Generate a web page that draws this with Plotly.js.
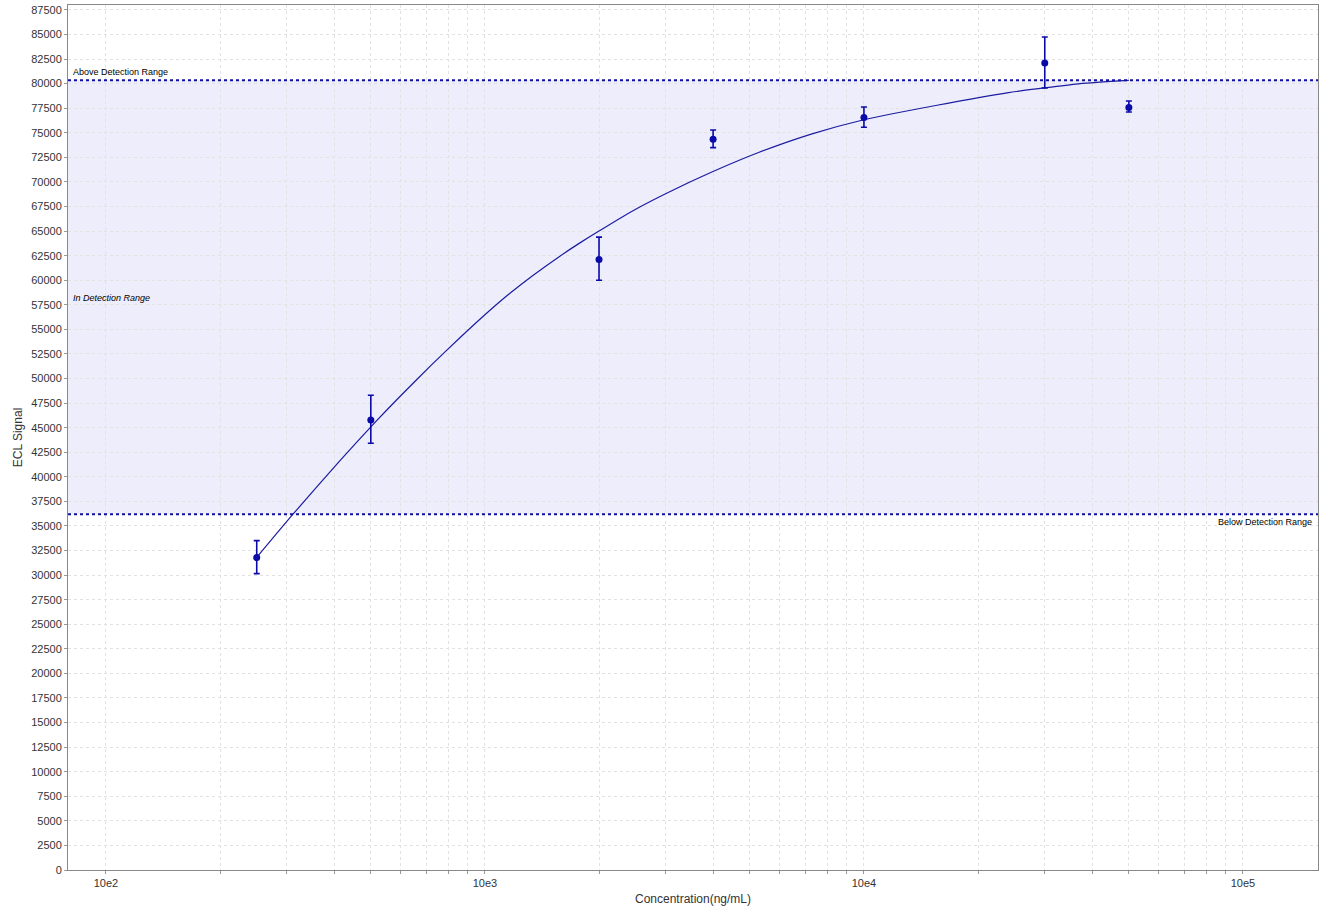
<!DOCTYPE html>
<html>
<head>
<meta charset="utf-8">
<script src="https://cdn.plot.ly/plotly-3.0.1.min.js"></script>
<style>
  html, body { margin: 0; padding: 0; background: #fff; }
  #chart { width: 1326px; height: 912px; }
</style>
</head>
<body>
<div id="chart"></div>
<script>
// measured standards (concentration, mean signal, error bar ends)
var concentration = [250, 500, 2000, 4000, 10000, 30000, 50000];
var signal = [31780, 45790, 62120, 74340, 76550, 82110, 77570];
var signalHigh = [33510, 48300, 64390, 75280, 77630, 84750, 78240];
var signalLow = [30150, 43410, 60000, 73490, 75560, 79560, 77120];

// fitted curve
var fitX = [250, 312, 414, 518, 603, 723, 859, 1000, 1164, 1341, 1577, 1781, 2000, 2413, 3016, 4010, 5272, 7296, 10000, 15590, 24070, 29900, 37150, 50000];
var fitY = [31800, 36220, 41620, 45710, 48350, 51390, 54150, 56490, 58670, 60510, 62450, 63800, 65010, 66900, 68850, 71080, 72990, 74890, 76330, 77800, 79090, 79560, 80010, 80340];

// detection limits
var upperLimit = 80340;
var lowerLimit = 36180;

var decades = [100, 1000, 10000, 100000];
var decadeLabels = ['10e2', '10e3', '10e4', '10e5'];

var xTicks = [];
var xText = [];
decades.forEach(function (d) {
	for (var m = 1; m <= 9; m++) {
		var v = d * m;
		var i = decades.indexOf(v);
		xTicks.push(v);
		xText.push(i >= 0 ? decadeLabels[i] : '');
	}
});

var blue = '#0a0aa8';

var fit = {
	x: fitX,
	y: fitY,
	mode: 'lines',
	type: 'scatter',
	line: {color: '#1c1ca0', width: 1.2, shape: 'spline', smoothing: 0.6},
	hoverinfo: 'skip'
};

var points = {
	x: concentration,
	y: signal,
	mode: 'markers',
	type: 'scatter',
	marker: {color: blue, size: 7},
	error_y: {
		type: 'data',
		symmetric: false,
		array: signalHigh.map(function (v, i) { return v - signal[i]; }),
		arrayminus: signal.map(function (v, i) { return v - signalLow[i]; }),
		color: blue,
		thickness: 1.6,
		width: 3
	}
};

var gridColor = '#e2e2e2';
var smallFont = {family: 'Liberation Sans, Arial, sans-serif', size: 9, color: '#000'};

var layout = {
	width: 1326,
	height: 912,
	margin: {l: 68, r: 8, t: 5, b: 42},
	paper_bgcolor: '#fff',
	plot_bgcolor: '#fff',
	showlegend: false,
	font: {family: 'Liberation Sans, Arial, sans-serif', size: 11, color: '#333'},
	xaxis: {
		type: 'log',
		range: [1.9, 5.198],
		tickmode: 'array',
		tickvals: xTicks,
		ticktext: xText,
		ticks: 'outside',
		ticklen: 3,
		tickcolor: '#999',
		showgrid: true,
		gridcolor: gridColor,
		griddash: '3px,3px',
		gridwidth: 1,
		showline: true,
		linecolor: '#888',
		linewidth: 1,
		mirror: true,
		zeroline: false,
		tickfont: {size: 11, color: '#333'},
		title: {text: 'Concentration(ng/mL)', font: {size: 12, color: '#333'}, standoff: 6}
	},
	yaxis: {
		range: [0, 88000],
		tick0: 0,
		dtick: 2500,
		tickformat: 'd',
		ticks: 'outside',
		ticklen: 3,
		tickcolor: '#999',
		showgrid: true,
		gridcolor: gridColor,
		griddash: '3px,3px',
		showline: true,
		linecolor: '#888',
		linewidth: 1,
		mirror: true,
		zeroline: false,
		tickfont: {size: 11, color: '#333'},
		title: {text: 'ECL Signal', font: {size: 12, color: '#333'}, standoff: 6}
	},
	shapes: [
		{
			type: 'rect', layer: 'below',
			xref: 'paper', yref: 'y',
			x0: 0, x1: 1, y0: lowerLimit, y1: upperLimit,
			fillcolor: 'rgba(225,225,250,0.6)', line: {width: 0}
		},
		{
			type: 'line', xref: 'paper', yref: 'y',
			x0: 0, x1: 1, y0: upperLimit, y1: upperLimit,
			line: {color: '#1010a0', width: 2, dash: 'dot'}
		},
		{
			type: 'line', xref: 'paper', yref: 'y',
			x0: 0, x1: 1, y0: lowerLimit, y1: lowerLimit,
			line: {color: '#1010a0', width: 2, dash: 'dot'}
		}
	],
	annotations: [
		{
			xref: 'paper', yref: 'y', x: 0.002, y: upperLimit,
			xanchor: 'left', yanchor: 'bottom', yshift: 1,
			text: 'Above Detection Range', showarrow: false, font: smallFont
		},
		{
			xref: 'paper', yref: 'y', x: 0.002, y: 58150,
			xanchor: 'left', yanchor: 'middle',
			text: '<i>In Detection Range</i>', showarrow: false, font: smallFont
		},
		{
			xref: 'paper', yref: 'y', x: 0.997, y: lowerLimit,
			xanchor: 'right', yanchor: 'top', yshift: -1,
			text: 'Below Detection Range', showarrow: false, font: smallFont
		}
	]
};

Plotly.newPlot('chart', [fit, points], layout, {displayModeBar: false, staticPlot: true});
</script>
</body>
</html>
